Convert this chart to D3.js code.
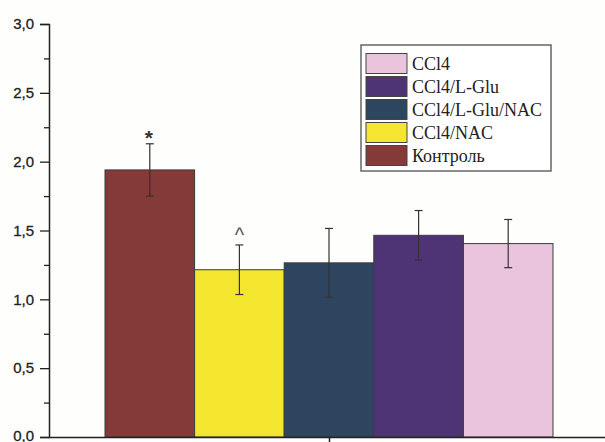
<!DOCTYPE html>
<html><head><meta charset="utf-8">
<script src="https://cdn.jsdelivr.net/npm/d3@7"></script>
<style>html,body{margin:0;padding:0;background:#fefefc;}svg{display:block;}</style>
</head><body>
<svg id="c" width="605" height="442"></svg>
<script>
const categories = ["Контроль", "CCl4/NAC", "CCl4/L-Glu/NAC", "CCl4/L-Glu", "CCl4"];
const values = [1.94, 1.215, 1.265, 1.465, 1.405];
const errors = [0.19, 0.18, 0.25, 0.18, 0.175];
const marks = ["*", "^", "", "", ""];
const colors = ["#843a36", "#f4e52e", "#2e4560", "#4f3475", "#eac3dd"];
const legendOrder = ["CCl4", "CCl4/L-Glu", "CCl4/L-Glu/NAC", "CCl4/NAC", "Контроль"];
const yTicks = [0, 0.5, 1.0, 1.5, 2.0, 2.5, 3.0];

const svg = d3.select("#c");
const y = d3.scaleLinear().domain([0, 3]).range([437, 24]);
const x = d3.scaleBand().domain(categories).range([105, 553]).padding(0);
const color = d3.scaleOrdinal().domain(categories).range(colors);
const fmt = v => d3.format(".1f")(v).replace(".", ",");

// bars
svg.append("g").selectAll("rect").data(categories).join("rect")
  .attr("x", d => x(d)).attr("y", (d,i) => y(values[i]))
  .attr("width", x.bandwidth()).attr("height", (d,i) => y(0) - y(values[i]))
  .attr("fill", d => color(d)).attr("stroke", "#3a3a3a").attr("stroke-width", 1);

// error bars
const eg = svg.append("g").attr("stroke", "#333").attr("stroke-width", 1.2);
categories.forEach((c, i) => {
  const cx = x(c) + x.bandwidth() / 2;
  const t = y(values[i] + errors[i]), b = y(values[i] - errors[i]);
  eg.append("line").attr("x1", cx).attr("x2", cx).attr("y1", t).attr("y2", b);
  eg.append("line").attr("x1", cx - 4).attr("x2", cx + 4).attr("y1", t).attr("y2", t);
  eg.append("line").attr("x1", cx - 4).attr("x2", cx + 4).attr("y1", b).attr("y2", b);
  if (marks[i] === "*") {
    svg.append("text").attr("x", cx - 1).attr("y", t + 1)
      .attr("text-anchor", "middle").attr("font-family", "Liberation Sans, Arial, sans-serif")
      .attr("font-weight", "bold").attr("font-size", 21).attr("fill", "#333").text(marks[i]);
  } else if (marks[i]) {
    svg.append("text").attr("x", cx).attr("y", t - 3)
      .attr("text-anchor", "middle").attr("font-family", "Liberation Sans, Arial, sans-serif")
      .attr("font-size", 20).attr("fill", "#555").text(marks[i]);
  }
});

// y axis
const yAxis = d3.axisLeft(y).tickValues(yTicks).tickFormat(fmt).tickSize(9).tickPadding(6);
const yg = svg.append("g").attr("transform", "translate(49,0)").call(yAxis);
yg.select(".domain").attr("stroke", "#222").attr("stroke-width", 1.5);
yg.selectAll(".tick line").attr("stroke", "#222").attr("stroke-width", 1.3);
yg.selectAll("text").attr("font-family", "Liberation Sans, Arial, sans-serif").attr("font-size", 15)
  .attr("fill", "#222").attr("stroke", "#222").attr("stroke-width", 0.3)
  .attr("dy", d => d === 0 ? "0.2em" : "0.32em");
const minor = d3.axisLeft(y).tickValues(d3.range(0.25, 3, 0.5)).tickFormat("").tickSize(5);
const mg = svg.append("g").attr("transform", "translate(49,0)").call(minor);
mg.select(".domain").remove();
mg.selectAll(".tick line").attr("stroke", "#222").attr("stroke-width", 1.3);

// x axis
const xs = d3.scaleLinear().domain([0, 1]).range([49, 605]);
const xAxis = d3.axisBottom(xs).tickValues([(329 - 49) / 556]).tickFormat("").tickSize(6).tickSizeOuter(0);
const xg = svg.append("g").attr("transform", "translate(0,437)").call(xAxis);
xg.select(".domain").attr("stroke", "#222").attr("stroke-width", 1.5);
xg.selectAll(".tick line").attr("stroke", "#222").attr("stroke-width", 1.5);

// legend
const lg = svg.append("g").attr("transform", "translate(361,45)");
lg.append("rect").attr("x", 0).attr("y", 0).attr("width", 190).attr("height", 126)
  .attr("fill", "#fff").attr("stroke", "#666").attr("stroke-width", 1.5);
legendOrder.forEach((c, i) => {
  const ry = 8.5 + i * 23;
  lg.append("rect").attr("x", 5).attr("y", ry).attr("width", 41).attr("height", 20)
    .attr("fill", color(c)).attr("stroke", "#444").attr("stroke-width", 1);
  lg.append("text").attr("x", 51).attr("y", ry + 16).attr("font-family", "Liberation Serif, Times New Roman, serif")
    .attr("font-size", 18).attr("fill", "#222").text(c);
});
</script>
</body></html>
